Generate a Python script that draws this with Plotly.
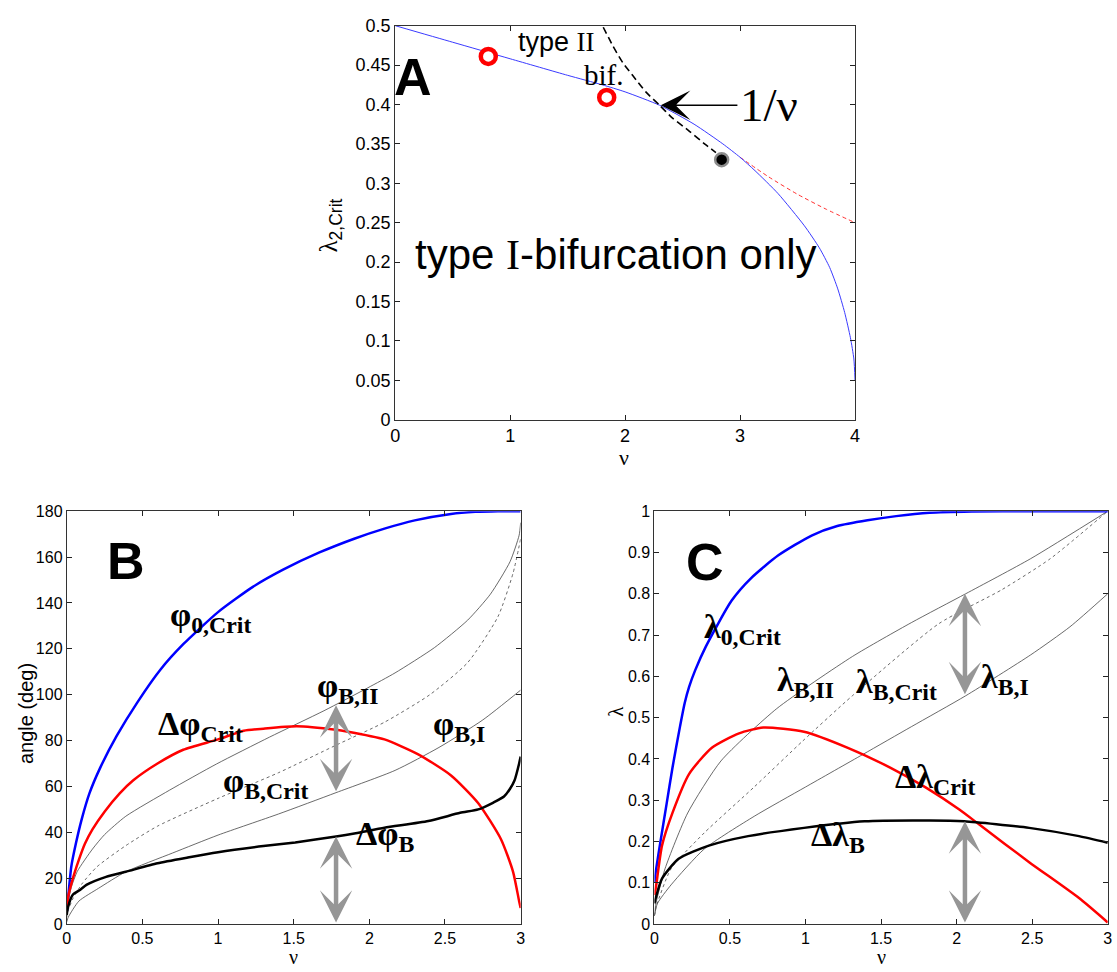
import plotly.graph_objects as go

# ---------------- Panel A data ----------------
nu_A_blue = [0, 0.5, 1.0, 1.5, 1.8, 2.0, 2.3, 2.6, 2.85, 3.0, 3.13, 3.33, 3.56, 3.69, 3.78, 3.85, 3.91, 3.96, 3.99, 4.0]
lam_A_blue = [0.5, 0.479, 0.458, 0.437, 0.425, 0.416, 0.399, 0.375, 0.350, 0.333, 0.316, 0.287, 0.246, 0.218, 0.193, 0.166, 0.136, 0.104, 0.077, 0.05]
nu_A_red = [3.0, 3.25, 3.5, 3.75, 4.0]
lam_A_red = [0.333, 0.308, 0.286, 0.267, 0.25]
nu_A_black = [1.81, 1.895, 1.98, 2.07, 2.18, 2.3, 2.41, 2.56, 2.70, 2.79]
lam_A_black = [0.498, 0.474, 0.453, 0.436, 0.416, 0.399, 0.383, 0.366, 0.349, 0.339]
nu_A_circles = [0.81, 1.84]
lam_A_circles = [0.461, 0.409]
nu_A_dot = [2.84]
lam_A_dot = [0.330]

# ---------------- Panel B data ----------------
nu_B_phi0 = [0, 0.01, 0.03, 0.06, 0.1, 0.15, 0.22, 0.33, 0.47, 0.62, 0.77, 1.0, 1.23, 1.43, 1.67, 1.9, 2.1, 2.3, 2.54, 2.7, 2.85, 3.0]
phi0_crit = [5, 12, 25, 35, 46, 57, 68, 82, 97, 111, 122, 136, 147, 154.5, 162, 168, 172.4, 176, 178.8, 179.7, 180, 180]
nu_B_dphi = [0, 0.01, 0.02, 0.05, 0.08, 0.12, 0.17, 0.25, 0.35, 0.44, 0.6, 0.77, 1.0, 1.17, 1.3, 1.52, 1.78, 1.85, 2.1, 2.32, 2.54, 2.72, 2.87, 2.95, 2.99, 3.0]
dphi_crit = [7, 12, 15, 22, 28, 35, 41.3, 49, 57, 62.7, 70, 76, 80.5, 84.3, 85.2, 86.2, 84.7, 84, 80.5, 74.1, 64.8, 52.7, 37, 22.8, 10, 7]
nu_B_dphiB = [0, 0.007, 0.04, 0.09, 0.13, 0.26, 0.39, 0.6, 0.8, 1.0, 1.3, 1.51, 1.78, 1.91, 2.1, 2.39, 2.6, 2.72, 2.82, 2.89, 2.93, 2.96, 2.99, 3.0]
dphi_B = [4, 7, 12.8, 15, 17.1, 20.6, 22.8, 26.5, 29, 31.3, 34, 35.6, 38.2, 39.6, 42, 44.9, 48.5, 50, 53, 55.6, 59, 62.7, 70, 73]
nu_B_II = [0, 0.01, 0.03, 0.07, 0.17, 0.25, 0.39, 0.68, 0.99, 1.34, 1.7, 1.99, 2.17, 2.43, 2.65, 2.8, 2.93, 2.99, 3.0]
phi_B_II = [4, 10, 16, 23, 32.7, 39, 47, 58.4, 69.8, 81.5, 93, 103, 109.5, 120.5, 132.5, 143.8, 158, 169.5, 175]
nu_B_crit = [0, 0.01, 0.04, 0.1, 0.2, 0.39, 0.6, 1.0, 1.4, 1.78, 2.1, 2.4, 2.65, 2.85, 2.95, 3.0]
phi_B_crit = [3, 6, 11, 17.5, 25, 34.2, 42.7, 54.8, 66, 78, 88, 100, 114, 134, 153, 168]
nu_B_I = [0, 0.01, 0.08, 0.21, 0.39, 0.7, 1.0, 1.4, 1.78, 2.17, 2.46, 2.75, 3.0]
phi_B_I = [1, 3, 10, 15.6, 22.8, 31, 38.8, 48, 57.3, 67, 77, 89, 102]

# ---------------- Panel C data ----------------
nu_C_lam0 = [0, 0.01, 0.04, 0.08, 0.12, 0.17, 0.2, 0.23, 0.27, 0.34, 0.51, 0.64, 0.82, 1.04, 1.21, 1.41, 1.6, 1.82, 2.1, 2.5, 3.0]
lam0_crit = [0.1, 0.13, 0.2, 0.29, 0.38, 0.48, 0.535, 0.575, 0.615, 0.672, 0.783, 0.838, 0.893, 0.941, 0.964, 0.978, 0.988, 0.996, 0.999, 1.0, 1.0]
nu_C_dlam = [0, 0.01, 0.05, 0.12, 0.23, 0.38, 0.56, 0.72, 0.99, 1.28, 1.56, 1.8, 2.02, 2.15, 2.48, 2.81, 3.0]
dlam_crit = [0.07, 0.09, 0.19, 0.27, 0.364, 0.427, 0.462, 0.476, 0.466, 0.427, 0.379, 0.33, 0.277, 0.241, 0.15, 0.063, 0.004]
nu_C_dlamB = [0, 0.01, 0.05, 0.16, 0.36, 0.62, 0.99, 1.39, 1.82, 2.05, 2.48, 2.81, 3.0]
dlam_B = [0.05, 0.065, 0.11, 0.158, 0.19, 0.213, 0.233, 0.249, 0.251, 0.249, 0.233, 0.213, 0.197]
nu_C_II = [0, 0.01, 0.07, 0.22, 0.44, 0.81, 1.31, 1.7, 2.06, 2.49, 3.0]
lam_B_II = [0.02, 0.05, 0.134, 0.269, 0.395, 0.522, 0.648, 0.73, 0.8, 0.885, 1.0]
nu_C_crit = [0, 0.01, 0.11, 0.33, 0.66, 0.98, 1.31, 1.88, 2.3, 2.62, 3.0]
lam_B_crit = [0.02, 0.04, 0.134, 0.221, 0.332, 0.443, 0.553, 0.727, 0.81, 0.885, 1.0]
nu_C_I = [0, 0.02, 0.11, 0.33, 0.66, 1.0, 1.38, 1.7, 2.06, 2.49, 2.75, 3.0]
lam_B_I = [0.02, 0.05, 0.095, 0.182, 0.261, 0.332, 0.411, 0.478, 0.553, 0.652, 0.72, 0.8]

# double arrows (nu, from, to)
arrows_B = [(1.78, 57.3, 95.4), (1.78, 0.0, 38.2)]
arrows_C = [(2.055, 0.553, 0.8), (2.055, 0.0, 0.249)]

# ticks
tickvals_A_x = [0, 1, 2, 3, 4]
tickvals_A_y = [0, 0.05, 0.1, 0.15, 0.2, 0.25, 0.3, 0.35, 0.4, 0.45, 0.5]
ticktext_A_y = ["0", "0.05", "0.1", "0.15", "0.2", "0.25", "0.3", "0.35", "0.4", "0.45", "0.5"]
tickvals_BC_x = [0, 0.5, 1, 1.5, 2, 2.5, 3]
ticktext_BC_x = ["0", "0.5", "1", "1.5", "2", "2.5", "3"]
tickvals_B_y = [0, 20, 40, 60, 80, 100, 120, 140, 160, 180]
tickvals_C_y = [0, 0.1, 0.2, 0.3, 0.4, 0.5, 0.6, 0.7, 0.8, 0.9, 1.0]
ticktext_C_y = ["0", "0.1", "0.2", "0.3", "0.4", "0.5", "0.6", "0.7", "0.8", "0.9", "1"]

SANS = "Liberation Sans, Arial, sans-serif"
SERIF = "Liberation Serif, Times New Roman, serif"
THIN = "#444444"

W, H = 1117, 972
fig = go.Figure()

def line(x, y, xa, ya, color, width, dash="solid", shape="spline"):
    fig.add_trace(go.Scatter(x=x, y=y, mode="lines", xaxis=xa, yaxis=ya,
                             line=dict(color=color, width=width, dash=dash, shape=shape, smoothing=0.6),
                             showlegend=False, hoverinfo="skip"))

# Panel A
line(nu_A_red, lam_A_red, "x", "y", "#ff3030", 1, "4px,3px")
line(nu_A_blue, lam_A_blue, "x", "y", "#3a3aff", 1)
line(nu_A_black, lam_A_black, "x", "y", "black", 1.6, "7px,4px")
fig.add_trace(go.Scatter(x=nu_A_circles, y=lam_A_circles, mode="markers", xaxis="x", yaxis="y",
                         marker=dict(symbol="circle", size=15, color="white",
                                     line=dict(color="#ff0000", width=4.5)),
                         showlegend=False, hoverinfo="skip"))
fig.add_trace(go.Scatter(x=nu_A_dot, y=lam_A_dot, mode="markers", xaxis="x", yaxis="y",
                         marker=dict(symbol="circle", size=13, color="black",
                                     line=dict(color="#8c8c8c", width=2.5)),
                         showlegend=False, hoverinfo="skip"))

# Panel B
line(nu_B_crit, phi_B_crit, "x2", "y2", THIN, 0.8, "3px,3px")
line(nu_B_II, phi_B_II, "x2", "y2", THIN, 0.8)
line(nu_B_I, phi_B_I, "x2", "y2", THIN, 0.8)
line(nu_B_phi0, phi0_crit, "x2", "y2", "#0000ff", 2.5)
line(nu_B_dphi, dphi_crit, "x2", "y2", "#ff0000", 2.5)
line(nu_B_dphiB, dphi_B, "x2", "y2", "black", 2.5)

# Panel C
line(nu_C_crit, lam_B_crit, "x3", "y3", THIN, 0.8, "3px,3px")
line(nu_C_II, lam_B_II, "x3", "y3", THIN, 0.8)
line(nu_C_I, lam_B_I, "x3", "y3", THIN, 0.8)
line(nu_C_lam0, lam0_crit, "x3", "y3", "#0000ff", 2.5)
line(nu_C_dlam, dlam_crit, "x3", "y3", "#ff0000", 2.5)
line(nu_C_dlamB, dlam_B, "x3", "y3", "black", 2.5)

# Axes
def px2x(p):
    return p / W

def px2y(p):
    return 1 - p / H

def axis(domain, rng, tv, tt, size, anchor):
    return dict(domain=domain, range=rng, tickvals=tv, ticktext=tt, ticks="inside", ticklen=5,
                tickcolor="#222", showline=True, linecolor="#333", linewidth=1, mirror="ticks",
                showgrid=False, zeroline=False, tickfont=dict(family=SANS, size=size, color="black"),
                anchor=anchor, fixedrange=True)

A_x = [px2x(393.7), px2x(857.7)]
A_y = [px2y(418.3), px2y(16)]
B_x = [px2x(62.3), px2x(520.3)]
BC_y = [px2y(933.3), px2y(511.7)]
C_x = [px2x(655.3), px2x(1112.7)]

annotations = []

def text(x, y, s, size, family, xref, yref, bold=False, angle=0, xanchor="center", yanchor="middle", pad=1):
    if bold:
        s = "<b>" + s + "</b>"
    annotations.append(dict(x=x, y=y, xref=xref, yref=yref, text=s, showarrow=False,
                            font=dict(family=family, size=size, color="black"), borderpad=pad,
                            xanchor=xanchor, yanchor=yanchor, textangle=angle))

# Panel A texts
text(0.158, 0.435, "A", 52, SANS, "x", "y", bold=True)
text(1.40, 0.479, 'type <span style="font-family:Liberation Serif">II</span>', 27, SANS, "x", "y")
text(1.815, 0.437, "bif.", 29, SERIF, "x", "y")
text(3.25, 0.399, "1/ν", 47, SERIF, "x", "y")
text(1.92, 0.209, 'type <span style="font-family:Liberation Serif">I</span>-bifurcation only', 42, SANS, "x", "y")
annotations.append(dict(x=2.31, y=0.399, ax=2.99, ay=0.399, xref="x", yref="y", axref="x", ayref="y",
                        text="", showarrow=True, arrowhead=3, arrowsize=3.3, arrowwidth=1.5,
                        arrowcolor="black", standoff=0))

# Panel B texts
text(0.391, 158.2, "B", 52, SANS, "x2", "y2", bold=True)
text(0.948, 133.9, "φ<sub>0,Crit</sub>", 34, SERIF, "x2", "y2", bold=True)
text(0.882, 86.4, "Δφ<sub>Crit</sub>", 34, SERIF, "x2", "y2", bold=True)
text(1.858, 103.1, "φ<sub>B,II</sub>", 34, SERIF, "x2", "y2", bold=True)
text(1.314, 61.7, "φ<sub>B,Crit</sub>", 34, SERIF, "x2", "y2", bold=True)
text(2.591, 86.4, "φ<sub>B,I</sub>", 34, SERIF, "x2", "y2", bold=True)
text(2.107, 38.6, "Δφ<sub>B</sub>", 34, SERIF, "x2", "y2", bold=True)

# Panel C texts
text(0.332, 0.878, "C", 52, SANS, "x3", "y3", bold=True)
text(0.582, 0.714, "λ<sub>0,Crit</sub>", 34, SERIF, "x3", "y3", bold=True)
text(1.0, 0.586, "λ<sub>B,II</sub>", 34, SERIF, "x3", "y3", bold=True)
text(1.605, 0.582, "λ<sub>B,Crit</sub>", 34, SERIF, "x3", "y3", bold=True)
text(2.319, 0.594, "λ<sub>B,I</sub>", 34, SERIF, "x3", "y3", bold=True)
text(1.854, 0.352, "Δλ<sub>Crit</sub>", 34, SERIF, "x3", "y3", bold=True)
text(1.218, 0.212, "Δλ<sub>B</sub>", 34, SERIF, "x3", "y3", bold=True)

# gray double arrows
for (xa, ya, arr) in (("x2", "y2", arrows_B), ("x3", "y3", arrows_C)):
    for (nu, y0, y1) in arr:
        annotations.append(dict(x=nu, y=y1, ax=nu, ay=y0, xref=xa, yref=ya, axref=xa, ayref=ya,
                                text="", showarrow=True, arrowside="end+start",
                                arrowhead=3, startarrowhead=3, arrowsize=1.2, startarrowsize=1.2,
                                arrowwidth=4.5, arrowcolor="#969696", standoff=0, startstandoff=0))

# axis titles (paper coordinates)
text(px2x(328), px2y(220), '<span style="font-family:Liberation Serif">λ</span><sub>2,Crit</sub>', 25, SANS,
     "paper", "paper", angle=-90)
text(px2x(625), px2y(457), "ν", 22, SERIF, "paper", "paper")
text(px2x(21), px2y(718), "angle (deg)", 20, SANS, "paper", "paper", angle=-90)
text(px2x(291), px2y(967), "ν", 20, SERIF, "paper", "paper", pad=0)
text(px2x(617), px2y(716), "λ", 21, SERIF, "paper", "paper", angle=-90)
text(px2x(884), px2y(967), "ν", 20, SERIF, "paper", "paper", pad=0)

fig.update_layout(
    width=W, height=H, margin=dict(l=0, r=0, t=0, b=0),
    paper_bgcolor="white", plot_bgcolor="white",
    xaxis=axis(A_x, [0, 4], tickvals_A_x, [str(v) for v in tickvals_A_x], 18, "y"),
    yaxis=axis(A_y, [0, 0.5], tickvals_A_y, ticktext_A_y, 18, "x"),
    xaxis2=axis(B_x, [0, 3], tickvals_BC_x, ticktext_BC_x, 16, "y2"),
    yaxis2=axis(BC_y, [0, 180], tickvals_B_y, [str(v) for v in tickvals_B_y], 16, "x2"),
    xaxis3=axis(C_x, [0, 3], tickvals_BC_x, ticktext_BC_x, 16, "y3"),
    yaxis3=axis(BC_y, [0, 1], tickvals_C_y, ticktext_C_y, 16, "x3"),
    annotations=annotations,
)

fig.write_html("out.html")
